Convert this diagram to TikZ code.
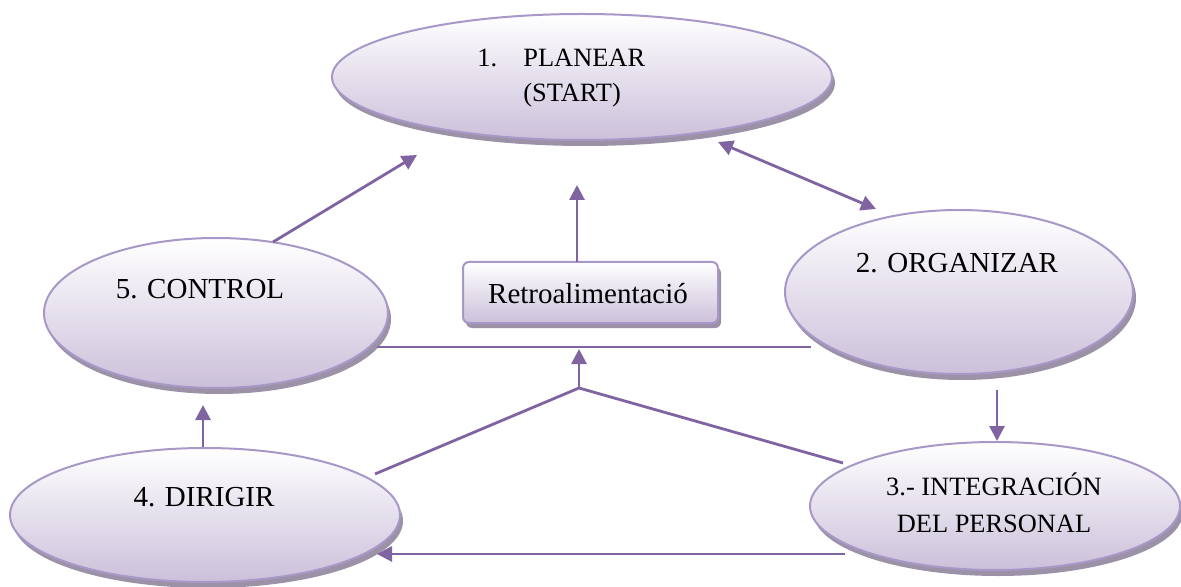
\documentclass[tikz,border=0pt]{standalone}
\usepackage{fontspec}
\setmainfont{Liberation Serif}
\usetikzlibrary{shadows,arrows.meta,shapes.geometric}
\definecolor{lnc}{HTML}{8064A2}
\definecolor{bdc}{HTML}{A898C8}
\definecolor{shc}{HTML}{9C92A8}
\definecolor{botc}{HTML}{CBC0DA}
\tikzset{
  bubble/.style={ellipse, draw=bdc, line width=1pt, top color=white, bottom color=botc,
    inner sep=0pt, outer sep=0pt,
    drop shadow={shadow xshift=1.5pt, shadow yshift=-3pt, fill=shc, opacity=1}},
  fbbox/.style={rectangle, rounded corners=3pt, draw=bdc, line width=1pt, top color=white, bottom color=botc,
    inner sep=0pt, outer sep=0pt, minimum width=127.5pt, minimum height=30.5pt,
    drop shadow={shadow xshift=1.5pt, shadow yshift=-2.5pt, fill=shc, opacity=1}},
  txt/.style={inner sep=0pt, anchor=base, font=\fontsize{14.5}{17}\selectfont},
  txts/.style={inner sep=0pt, anchor=base, font=\fontsize{13.2}{16}\selectfont},
  conn/.style={draw=lnc, line width=1.4pt},
  arr/.style={conn, -{Triangle[length=7.5pt,width=7.5pt]}},
  darr/.style={conn, {Triangle[length=7.5pt,width=7.5pt]}-{Triangle[length=7.5pt,width=7.5pt]}}
}
\begin{document}
\begin{tikzpicture}[x=0.5pt,y=-0.5pt]
\useasboundingbox (0,0) rectangle (1181,587);
\fill[white] (0,0) rectangle (1181,587);

% ellipses
\node[bubble, minimum width=250pt, minimum height=63pt] (pl) at (582,77) {};
\node[bubble, minimum width=172pt, minimum height=75pt] (ctrl) at (216,313) {};
\node[bubble, minimum width=174pt, minimum height=82pt] (org) at (959,292) {};
\node[bubble, minimum width=185pt, minimum height=64pt] (integ) at (995,506) {};
\node[bubble, minimum width=195pt, minimum height=67pt] (dir) at (205,515) {};
\node[fbbox] (retro) at (590.5,292.5) {};

% texts
\node[txts, anchor=base west] (t1a) at (477,67) {1.};
\node[txts, anchor=base west] (t1b) at (523,67) {PLANEAR};
\node[txts, anchor=base west] (t1c) at (523,102) {(START)};
\node[txt] (t5) at (200,299) {5. CONTROL};
\node[txt] (t2) at (957,273) {2. ORGANIZAR};
\node[txt] (t4) at (204,506) {4. DIRIGIR};
\node[txts] (t3a) at (994,495) {3.- INTEGRACIÓN};
\node[txts] (t3b) at (994,532) {DEL PERSONAL};
\node[txt] (tr) at (588,303) {Retroalimentació};

% connector end points
\coordinate (fbTip) at (577,185);
\coordinate (c5a) at (273,242);
\coordinate (c5b) at (417,155);
\coordinate (d1) at (718,142);
\coordinate (d2) at (876,209);
\coordinate (h1) at (377,347);
\coordinate (h2) at (811,347);
\coordinate (J) at (579,388);
\coordinate (Jt) at (579,349);
\coordinate (l1) at (375,474);
\coordinate (l2) at (843,463);
\coordinate (o1) at (997,390);
\coordinate (o2) at (997,441);
\coordinate (b1) at (845,554);
\coordinate (b2) at (377,554);
\coordinate (v1) at (203,447);
\coordinate (v2) at (203,405);

% connectors
\draw[arr] (fbTip |- retro.north) -- (fbTip);
\draw[arr] (c5a) -- (c5b);
\draw[darr] (d1) -- (d2);
\draw[conn] (h1) -- (h2);
\draw[arr] (J) -- (Jt);
\draw[conn] (l1) -- (J) -- (l2);
\draw[arr] (o1) -- (o2);
\draw[arr] (b1) -- (b2);
\draw[arr] (v1) -- (v2);
\end{tikzpicture}
\end{document}
